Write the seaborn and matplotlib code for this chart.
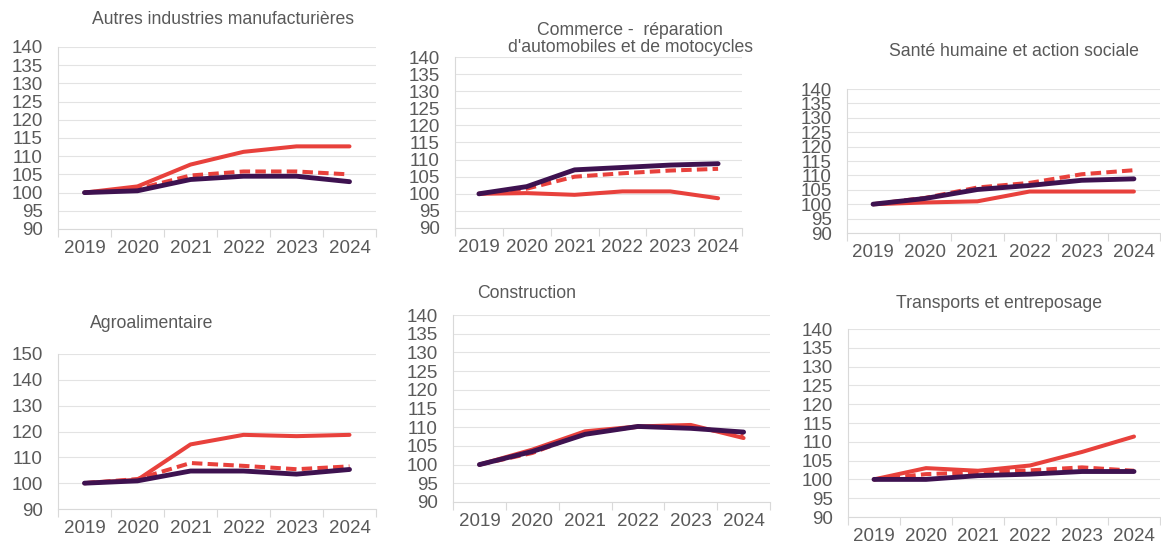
import seaborn as sns
import pandas as pd
import matplotlib.pyplot as plt

# ========= données (indices base 100 en 2019) =========
annees = ["2019", "2020", "2021", "2022", "2023", "2024"]

titres = [
    "Autres industries manufacturières",
    "Commerce -  réparation\nd'automobiles et de motocycles",
    "Santé humaine et action sociale",
    "Agroalimentaire",
    "Construction",
    "Transports et entreposage",
]

# trait rouge plein
rouge = [
    [100, 101.7, 107.7, 111.2, 112.7, 112.7],
    [100, 100.2, 99.7, 100.7, 100.7, 98.7],
    [100, 100.6, 101.0, 104.4, 104.4, 104.4],
    [100, 101.3, 115.0, 118.7, 118.2, 118.7],
    [100, 104.0, 108.9, 110.2, 110.6, 107.1],
    [100, 103.0, 102.3, 103.7, 107.3, 111.4],
]
# trait rouge pointillé
rouge_pointille = [
    [100, 101.0, 104.7, 105.8, 105.8, 105.0],
    [100, 101.5, 105.0, 106.0, 106.8, 107.3],
    [100, 102.2, 105.8, 107.4, 110.4, 111.8],
    [100, 101.6, 107.8, 106.7, 105.4, 106.5],
    [100, 103.1, 108.5, 110.1, 110.0, 108.0],
    [100, 101.4, 101.9, 102.4, 103.2, 102.3],
]
# trait violet
violet = [
    [100, 100.5, 103.6, 104.5, 104.5, 103.0],
    [100, 102.1, 107.0, 107.7, 108.4, 108.8],
    [100, 102.0, 105.1, 106.5, 108.3, 108.8],
    [100, 100.9, 104.7, 104.7, 103.5, 105.3],
    [100, 103.5, 108.1, 110.2, 109.7, 108.7],
    [100, 100.0, 101.0, 101.4, 102.1, 102.1],
]

y_max = [140, 140, 140, 150, 140, 140]
y_pas = [5, 5, 5, 10, 5, 5]

# positions des panneaux en pixels : gauche, droite, haut, bas
cadres = [
    (58, 376, 47, 229),
    (455, 742, 57, 228),
    (847, 1160, 89, 233),
    (58, 376, 354, 509),
    (453, 770, 315, 502),
    (848, 1160, 329, 517),
]
# positions des titres (centre x, centre y) en pixels
pos_titres = [(223, 20), (630, 39), (1014, 52), (152, 323), (527, 294), (999, 304)]
# ======================================================

ROUGE = "#E8413C"
VIOLET = "#3E1250"
GRIS = "#595959"
W, H = 1161, 549

sns.set_style("white")
plt.rcParams["font.family"] = ["Liberation Sans", "DejaVu Sans"]

fig = plt.figure(figsize=(W / 100, H / 100), dpi=100)

for i in range(6):
    g, d, h, b = cadres[i]
    ax = fig.add_axes([g / W, 1 - b / H, (d - g) / W, (b - h) / H])
    df = pd.DataFrame({
        "x": range(len(annees)),
        "rouge": rouge[i],
        "pointille": rouge_pointille[i],
        "violet": violet[i],
    })
    sns.lineplot(data=df, x="x", y="rouge", color=ROUGE, lw=2.9, ax=ax,
                 solid_capstyle="round")
    sns.lineplot(data=df, x="x", y="pointille", color=ROUGE, lw=2.9, ax=ax,
                 dashes=(2.6, 1.3))
    sns.lineplot(data=df, x="x", y="violet", color=VIOLET, lw=3.5, ax=ax,
                 solid_capstyle="round")

    ax.set_xlim(-0.5, len(annees) - 0.5)
    ax.set_ylim(90, y_max[i])
    ax.set_yticks(range(90, y_max[i] + 1, y_pas[i]))
    ax.set_xticks(range(len(annees)))
    ax.set_xticklabels(annees)
    ax.set_xticks([k - 0.5 for k in range(len(annees) + 1)], minor=True)
    ax.tick_params(axis="x", which="major", length=0, pad=8, labelsize=13.5, labelcolor=GRIS)
    ax.tick_params(axis="x", which="minor", length=6, width=0.8, color="#D9D9D9", direction="out", bottom=True)
    ax.tick_params(axis="y", length=0, pad=11, labelsize=13.5, labelcolor=GRIS)
    ax.set_xlabel("")
    ax.set_ylabel("")
    ax.grid(axis="y", color="#E3E3E3", lw=0.8)
    for s in ["top", "right"]:
        ax.spines[s].set_visible(False)
    for s in ["left", "bottom"]:
        ax.spines[s].set_color("#D9D9D9")
        ax.spines[s].set_linewidth(0.8)
    ax.set_axisbelow(True)

    fig.text(pos_titres[i][0] / W, 1 - pos_titres[i][1] / H, titres[i],
             ha="center", va="center", fontsize=12.7, color=GRIS, linespacing=1.05)

fig.savefig("out.png", dpi=100)
